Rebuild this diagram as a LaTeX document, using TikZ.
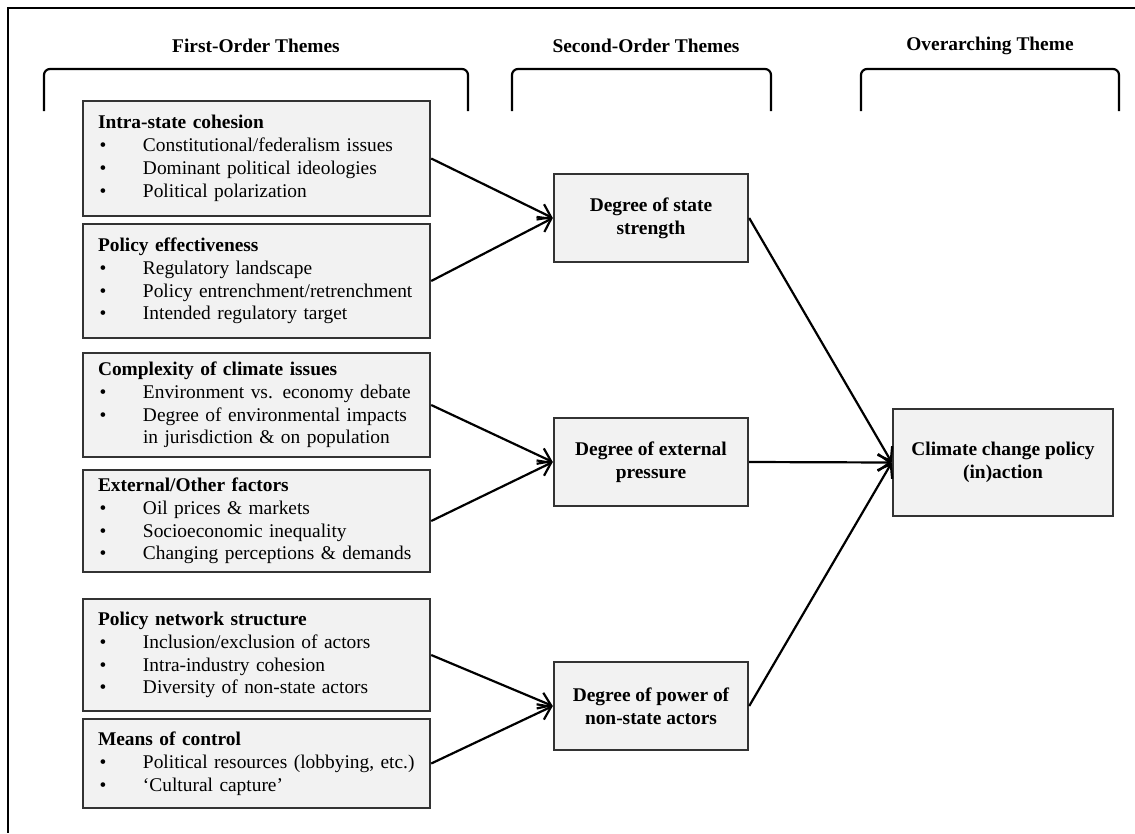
\documentclass[tikz,border=0pt]{standalone}
\usepackage{fontspec}
\setmainfont{Liberation Serif}
\usetikzlibrary{arrows.meta}
\definecolor{boxfill}{HTML}{F2F2F2}
\definecolor{boxline}{HTML}{333333}
\newcommand{\ftitle}[1]{\mbox{\textbf{#1}}}
\newcommand{\fitem}[1]{\mbox{\makebox[45pt][l]{\hspace{1.5pt}\textbullet}#1}}
\newcommand{\fcont}[1]{\mbox{\hspace{45pt}#1}}
\begin{document}
\begin{tikzpicture}[x=1pt,y=-1pt,
  font=\fontsize{19.4pt}{22.8pt}\selectfont,
  fobox/.style={draw=boxline, fill=boxfill, line width=2.4pt, text width=317pt,
    inner xsep=15pt, inner ysep=2pt, align=left},
  sobox/.style={draw=boxline, fill=boxfill, line width=2.4pt, minimum width=194pt,
    minimum height=88pt, align=center, font=\fontsize{19.4pt}{23pt}\selectfont\bfseries},
  hdr/.style={font=\fontsize{19.4pt}{23pt}\selectfont\bfseries, inner sep=0pt},
  arr/.style={line width=2.2pt, -{Straight Barb[length=12pt,width=17pt,line width=2.2pt]}},
  bracket/.style={line width=2.2pt, rounded corners=6pt}]
\useasboundingbox (0,0) rectangle (1135,833);
\fill[white] (0,0) rectangle (1135,833);
\draw[line width=2pt] (1135,8) -- (8,8) -- (8,833);

% headers
\node[hdr] (h1) at (256,46) {First-Order Themes};
\node[hdr] (h2) at (646,46) {Second-Order Themes};
\node[hdr] (h3) at (990,46) {Overarching Theme};

% brackets
\draw[bracket] (44,111) -- (44,69) -- (468,69) -- (468,111);
\draw[bracket] (512,111) -- (512,69) -- (771,69) -- (771,111);
\draw[bracket] (861,111) -- (861,69) -- (1119,69) -- (1119,111);

% first-order boxes
\node[fobox, minimum height=115pt] (b1) at (256.5,158.5) {\ftitle{Intra-state cohesion}\\
  \fitem{Constitutional/federalism issues}\\
  \fitem{Dominant political ideologies}\\
  \fitem{Political polarization}};
\node[fobox, minimum height=114pt] (b2) at (256.5,281) {\ftitle{Policy effectiveness}\\
  \fitem{Regulatory landscape}\\
  \fitem{Policy entrenchment/retrenchment}\\
  \fitem{Intended regulatory target}};
\node[fobox, minimum height=104pt] (b3) at (256.5,405) {\ftitle{Complexity of climate issues}\\
  \fitem{Environment vs. economy debate}\\
  \fitem{Degree of environmental impacts}\\
  \fcont{in jurisdiction \& on population}};
\node[fobox, minimum height=102pt] (b4) at (256.5,521) {\ftitle{External/Other factors}\\
  \fitem{Oil prices \& markets}\\
  \fitem{Socioeconomic inequality}\\
  \fitem{Changing perceptions \& demands}};
\node[fobox, minimum height=112pt] (b5) at (256.5,655) {\ftitle{Policy network structure}\\
  \fitem{Inclusion/exclusion of actors}\\
  \fitem{Intra-industry cohesion}\\
  \fitem{Diversity of non-state actors}};
\node[fobox, minimum height=89pt] (b6) at (256.5,763.5) {\ftitle{Means of control}\\
  \fitem{Political resources (lobbying, etc.)}\\
  \fitem{‘Cultural capture’}};

% second-order boxes
\node[sobox] (s1) at (651,218) {Degree of state\\strength};
\node[sobox] (s2) at (651,462) {Degree of external\\pressure};
\node[sobox] (s3) at (651,706) {Degree of power of\\non-state actors};

% overarching
\node[sobox, minimum width=220pt, minimum height=107pt] (c) at (1003,462.5) {Climate change policy\\(in)action};

% connectors
\draw[arr] (b1.east) -- (s1.west);
\draw[arr] (b2.east) -- (s1.west);
\draw[arr] (b3.east) -- (s2.west);
\draw[arr] (b4.east) -- (s2.west);
\draw[arr] (b5.east) -- (s3.west);
\draw[arr] (b6.east) -- (s3.west);
\draw[arr] (s1.east) -- (c.west);
\draw[arr] (s2.east) -- (c.west);
\draw[arr] (s3.east) -- (c.west);
\end{tikzpicture}
\end{document}
